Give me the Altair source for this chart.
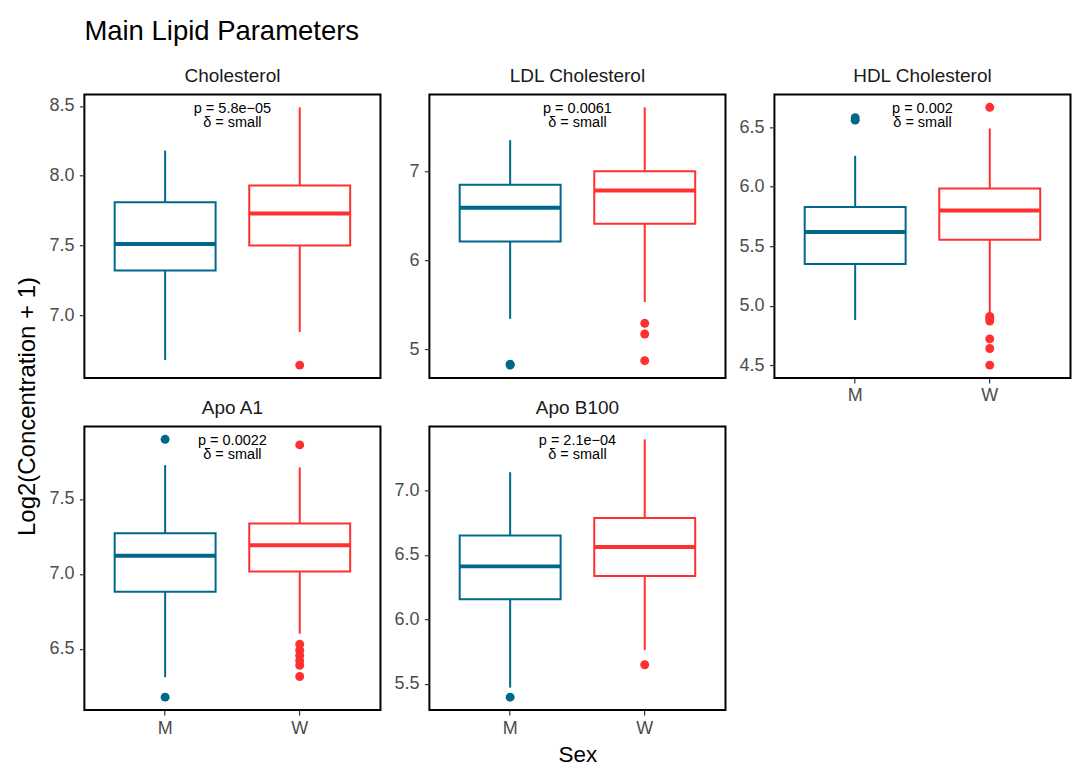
import altair as alt
import pandas as pd

# ---------------- data ----------------
params = ["Cholesterol", "LDL Cholesterol", "HDL Cholesterol", "Apo A1", "Apo B100"]
sexes = ["M", "W"]

# box statistics per sex: [lower whisker, Q1, median, Q3, upper whisker]
chol_M = [6.68, 7.32, 7.51, 7.81, 8.18]
chol_W = [6.88, 7.50, 7.73, 7.93, 8.49]
ldl_M = [5.34, 6.21, 6.59, 6.85, 7.35]
ldl_W = [5.53, 6.41, 6.785, 7.00, 7.72]
hdl_M = [4.88, 5.35, 5.62, 5.83, 6.26]
hdl_W = [4.93, 5.555, 5.80, 5.985, 6.49]
apoa1_M = [6.31, 6.88, 7.12, 7.27, 7.725]
apoa1_W = [6.60, 7.015, 7.19, 7.335, 7.71]
apob_M = [5.47, 6.155, 6.41, 6.65, 7.14]
apob_W = [5.76, 6.335, 6.56, 6.785, 7.395]

# outliers
chol_out_M = []
chol_out_W = [6.643]
ldl_out_M = [4.82, 4.83]
ldl_out_W = [5.29, 5.17, 4.87]
hdl_out_M = [6.56, 6.58]
hdl_out_W = [6.668, 4.91, 4.89, 4.87, 4.72, 4.64, 4.50]
apoa1_out_M = [7.897, 6.177]
apoa1_out_W = [7.86, 6.53, 6.49, 6.455, 6.42, 6.39, 6.315]
apob_out_M = [5.396]
apob_out_W = [5.647]

# annotations
p_labels = ["p = 5.8e\u221205", "p = 0.0061", "p = 0.002", "p = 0.0022", "p = 2.1e\u221204"]
delta_labels = ["\u03b4 = small"] * 5

# axis ticks
y_ticks = [
    [7.0, 7.5, 8.0, 8.5],
    [5, 6, 7],
    [4.5, 5.0, 5.5, 6.0, 6.5],
    [6.5, 7.0, 7.5],
    [5.5, 6.0, 6.5, 7.0],
]
y_formats = [".1f", "d", ".1f", ".1f", ".1f"]

stats = {
    "Cholesterol": (chol_M, chol_W, chol_out_M, chol_out_W),
    "LDL Cholesterol": (ldl_M, ldl_W, ldl_out_M, ldl_out_W),
    "HDL Cholesterol": (hdl_M, hdl_W, hdl_out_M, hdl_out_W),
    "Apo A1": (apoa1_M, apoa1_W, apoa1_out_M, apoa1_out_W),
    "Apo B100": (apob_M, apob_W, apob_out_M, apob_out_W),
}

COLORS = ["#00688B", "#FF3030"]
FONT = "Liberation Sans"
PW, PH = 296.5, 284

color_scale = alt.Scale(domain=sexes, range=COLORS)
x_scale = alt.Scale(domain=sexes, paddingInner=0.25, paddingOuter=0.225)


def panel(i, name):
    sM, sW, oM, oW = stats[name]
    box = pd.DataFrame({
        "sex": sexes,
        "lo": [sM[0], sW[0]],
        "q1": [sM[1], sW[1]],
        "med": [sM[2], sW[2]],
        "q3": [sM[3], sW[3]],
        "hi": [sM[4], sW[4]],
    })
    outl = pd.DataFrame({
        "sex": ["M"] * len(oM) + ["W"] * len(oW),
        "v": list(oM) + list(oW),
    })
    allv = list(sM) + list(sW) + list(oM) + list(oW)
    lo, hi = min(allv), max(allv)
    pad = 0.05 * (hi - lo)
    y_scale = alt.Scale(domain=[lo - pad, hi + pad], nice=False, zero=False)

    show_x = name in ("HDL Cholesterol", "Apo A1", "Apo B100")
    if show_x:
        x_axis = alt.Axis(
            title="Sex" if name == "Apo B100" else None,
            labelAngle=0, domain=False, tickSize=5, tickColor="#333333", tickWidth=1.2,
            labelColor="#4D4D4D", labelFontSize=18, labelPadding=4, labelFont=FONT,
            titleFontSize=22.5, titleFontWeight="normal", titleColor="black", titleFont=FONT,
            titleY=52, titleBaseline="alphabetic",
        )
    else:
        x_axis = None

    y_axis_kwargs = dict(
        values=y_ticks[i], format=y_formats[i], domain=False, grid=False,
        tickSize=5, tickColor="#333333", tickWidth=1.2,
        labelColor="#4D4D4D", labelFontSize=18, labelPadding=5.5, labelFont=FONT,
    )
    if name == "Cholesterol":
        y_axis = alt.Axis(
            title="Log2(Concentration + 1)", titleFontSize=24, titleFontWeight="normal",
            titleColor="black", titleFont=FONT, titleAngle=270, titleAlign="center",
            titleBaseline="alphabetic", titleX=-50, titleY=312, **y_axis_kwargs,
        )
    else:
        y_axis = alt.Axis(title=None, **y_axis_kwargs)

    X = alt.X("sex:N", scale=x_scale, axis=x_axis)
    base = alt.Chart(box)

    whisk = base.mark_rule(strokeWidth=2).encode(
        x=X,
        y=alt.Y("lo:Q", scale=y_scale, axis=y_axis),
        y2="hi:Q",
        color=alt.Color("sex:N", scale=color_scale, legend=None),
    )
    rect = base.mark_bar(fill="white", strokeWidth=2, cornerRadius=0).encode(
        x=X,
        y=alt.Y("q1:Q", scale=y_scale),
        y2="q3:Q",
        stroke=alt.Stroke("sex:N", scale=color_scale, legend=None),
    )
    med = base.mark_tick(orient="horizontal", size=101, thickness=4, opacity=1).encode(
        x=X,
        y=alt.Y("med:Q", scale=y_scale),
        color=alt.Color("sex:N", scale=color_scale, legend=None),
    )
    pts = alt.Chart(outl).mark_circle(size=80, opacity=1).encode(
        x=X,
        y=alt.Y("v:Q", scale=y_scale),
        color=alt.Color("sex:N", scale=color_scale, legend=None),
    )
    ann = pd.DataFrame({"p": [p_labels[i]], "d": [delta_labels[i]]})
    t1 = alt.Chart(ann).mark_text(fontSize=14.5, font=FONT, color="black", baseline="alphabetic").encode(
        x=alt.value(PW / 2), y=alt.value(19.0), text="p:N"
    )
    t2 = alt.Chart(ann).mark_text(fontSize=14.5, font=FONT, color="black", baseline="alphabetic").encode(
        x=alt.value(PW / 2), y=alt.value(32.9), text="d:N"
    )
    layers = [whisk, rect, med]
    if len(outl):
        layers.append(pts)
    layers += [t1, t2]
    return alt.layer(*layers).properties(
        width=PW, height=PH,
        title=alt.TitleParams(
            name, fontSize=19, fontWeight="normal", color="#1A1A1A", font=FONT,
            anchor="middle", frame="group", baseline="alphabetic", offset=-6.6,
        ),
    )


panels = [panel(i, n) for i, n in enumerate(params)]

chart = alt.concat(*panels, columns=3, spacing=48.5, bounds="flush").properties(
    title=alt.TitleParams(
        "Main Lipid Parameters", anchor="start", frame="group", fontSize=27.5,
        fontWeight="normal", color="black", font=FONT, offset=21,
    ),
    padding={"left": 14.5, "top": 17, "right": 0, "bottom": 2},
    background="white",
).configure(font=FONT).configure_view(stroke="black", strokeWidth=2)

chart.save("out.html", embed_options={"renderer": "svg", "actions": False})
